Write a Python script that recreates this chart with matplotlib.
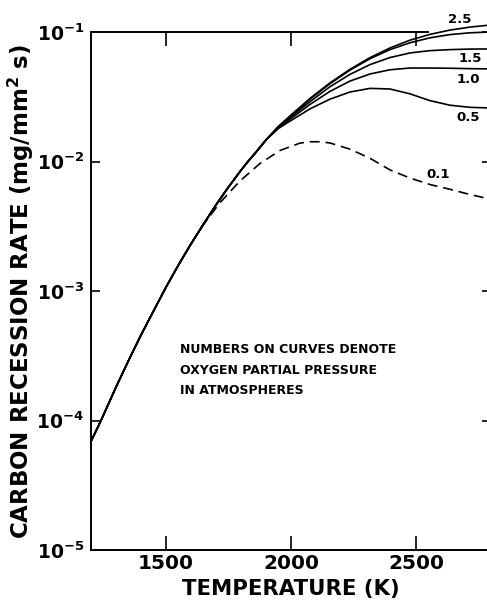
import matplotlib
matplotlib.use("Agg")
import matplotlib.pyplot as plt

# oxidation rate of carbon vs surface temperature, one curve per O2 partial pressure
temp_low = [1200, 1240, 1300, 1350, 1400, 1450, 1500, 1550, 1600, 1650, 1700, 1750,
            1800, 1828, 1860, 1900]
rate_low = [6.9e-5, 1.0e-4, 1.81e-4, 2.9e-4, 4.57e-4, 7.0e-4, 1.07e-3, 1.59e-3, 2.31e-3,
            3.28e-3, 4.62e-3, 6.35e-3, 8.56e-3, 1.0e-2, 1.18e-2, 1.467e-2]

temp_high = [1950, 1996, 2076, 2156, 2236, 2316, 2396, 2476, 2556, 2636, 2716, 2796]
rate_high = {
    "0.5": [0.0180, 0.0205, 0.0255, 0.0303, 0.0344, 0.0367, 0.0363, 0.0333, 0.0295, 0.0272, 0.0262, 0.0259],
    "1.0": [0.0183, 0.0212, 0.0276, 0.0348, 0.0418, 0.0474, 0.0511, 0.0527, 0.0527, 0.0525, 0.0521, 0.0519],
    "1.5": [0.0185, 0.0218, 0.0290, 0.0378, 0.0471, 0.0560, 0.0635, 0.0689, 0.0718, 0.0731, 0.0738, 0.0740],
    "2.0": [0.0186, 0.0222, 0.0303, 0.0399, 0.0508, 0.0622, 0.0731, 0.0826, 0.0902, 0.0955, 0.0986, 0.1000],
    "2.5": [0.0187, 0.0225, 0.0307, 0.0405, 0.0515, 0.0634, 0.0753, 0.0865, 0.0959, 0.1035, 0.1091, 0.1132],
}

# 0.1 atm branch (dashed)
temp_01 = [1640, 1716, 1796, 1876, 1956, 2036, 2076, 2116, 2156, 2236, 2316, 2396,
           2476, 2556, 2636, 2716, 2796]
rate_01 = [3.08e-3, 4.81e-3, 7.08e-3, 9.66e-3, 0.01216, 0.01387, 0.01419, 0.01422, 0.0139,
           0.01245, 0.01059, 0.00861, 0.00745, 0.00664, 0.00610, 0.00556, 0.00513]

label_pos = {
    "2.5": (2676, 0.124),
    "1.5": (2716, 0.0619),
    "1.0": (2708, 0.0426),
    "0.5": (2708, 0.0217),
    "0.1": (2588, 0.00787),
}

plt.rcParams['font.family'] = 'DejaVu Sans'
plt.rcParams['font.weight'] = 'bold'
plt.rcParams['mathtext.fontset'] = 'custom'
plt.rcParams['mathtext.rm'] = 'DejaVu Sans:bold'

fig = plt.figure(figsize=(4.87, 6.06), dpi=100)
ax = fig.add_axes([91 / 487, 1 - 550 / 606, 400 / 487, 518 / 606])

for key, vals in rate_high.items():
    ax.plot(temp_low + temp_high, rate_low + vals, color='black', lw=1.2, clip_on=False)
ax.plot(temp_01, rate_01, color='black', lw=1.2, ls=(0, (6, 3.5)))

for key, (tx, ty) in label_pos.items():
    ax.text(tx, ty, key, ha='center', va='center', fontsize=9.5, fontweight='bold',
            clip_on=False)

ax.text(1555, 2.45e-4, "NUMBERS ON CURVES DENOTE\nOXYGEN PARTIAL PRESSURE\nIN ATMOSPHERES",
        ha='left', va='center', fontsize=9, fontweight='bold', linespacing=1.72)

ax.set_yscale('log')
ax.set_xlim(1200, 2800)
ax.set_ylim(1e-5, 1e-1)
ax.set_xticks([1500, 2000, 2500])
ax.set_xticklabels(['1500', '2000', '2500'])
ax.set_yticks([1e-5, 1e-4, 1e-3, 1e-2, 1e-1])
ax.set_yticklabels([r'$\mathrm{10^{-5}}$', r'$\mathrm{10^{-4}}$', r'$\mathrm{10^{-3}}$',
                    r'$\mathrm{10^{-2}}$', r'$\mathrm{10^{-1}}$'])
ax.minorticks_off()
ax.tick_params(axis='x', direction='in', length=10, width=1.2, top=True,
               labelsize=14.5, pad=3)
ax.tick_params(axis='y', direction='in', length=6.5, width=1.2, right=True,
               labelsize=13.5, pad=5)
for side in ['left', 'bottom', 'top', 'right']:
    ax.spines[side].set_linewidth(1.4)
ax.spines['top'].set_bounds(1200, 2550)

ax.set_xlabel('TEMPERATURE (K)', fontsize=15.3, fontweight='bold')
ax.set_ylabel(r'CARBON RECESSION RATE (mg/mm$\mathrm{^2}$ s)', fontsize=16.5,
              fontweight='bold')
ax.xaxis.set_label_coords(0.5, -0.056)
ax.yaxis.set_label_coords(-0.137, 0.5)

fig.savefig('out.png', dpi=100)
